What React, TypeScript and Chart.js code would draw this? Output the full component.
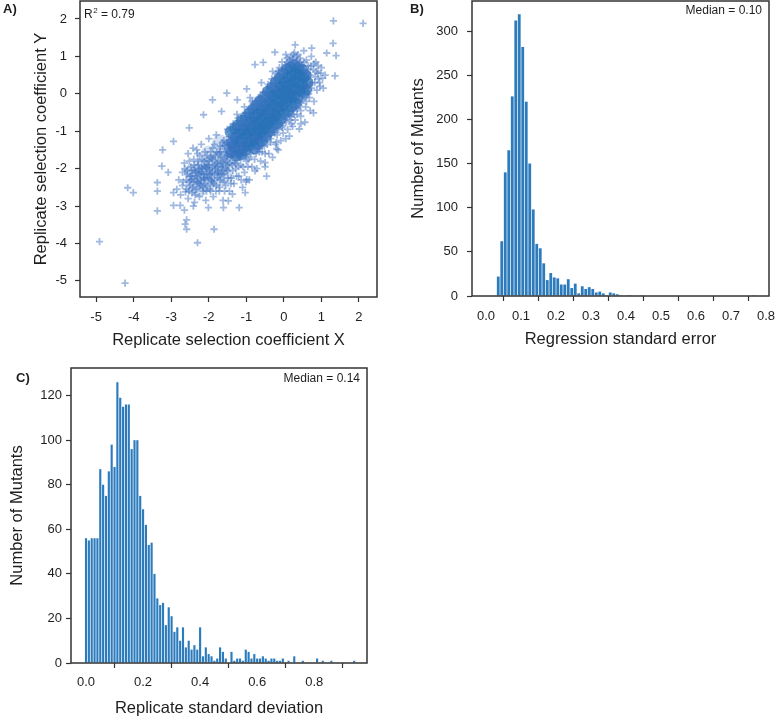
import React, { useEffect, useRef } from "react";
import { Chart, registerables } from "chart.js";

Chart.register(...registerables);

const FONT = "'Liberation Sans', Arial, Helvetica, sans-serif";
const TEXT = "#1e1e1e";
const FRAME = "#333333";
const BAR_BLUE = "#2b7bbd";

// ---------- Panel A: replicate selection coefficients (X, Y) ----------
// dense core of the cloud
const scatterCore: [number, number][] = [
  [-1.42, -1.02], [-1.38, -1.31], [-1.41, -1.57],
  [-1.31, -0.93], [-1.28, -1.17], [-1.33, -1.41], [-1.27, -1.66],
  [-1.22, -0.84], [-1.18, -1.07], [-1.21, -1.28], [-1.17, -1.53],
  [-1.12, -0.72], [-1.08, -0.96], [-1.11, -1.21], [-1.07, -1.43], [-1.13, -1.62],
  [-1.02, -0.63], [-0.98, -0.87], [-1.01, -1.09], [-0.97, -1.32], [-1.03, -1.51],
  [-0.92, -0.52], [-0.88, -0.74], [-0.91, -0.97], [-0.87, -1.16], [-0.93, -1.38],
  [-0.82, -0.41], [-0.78, -0.62], [-0.81, -0.84], [-0.77, -1.06], [-0.83, -1.24], [-0.79, -1.46],
  [-0.72, -0.31], [-0.68, -0.53], [-0.71, -0.77], [-0.67, -0.94], [-0.73, -1.16], [-0.69, -1.34],
  [-0.62, -0.19], [-0.58, -0.44], [-0.61, -0.66], [-0.57, -0.86], [-0.63, -1.04], [-0.59, -1.26],
  [-0.52, -0.08], [-0.48, -0.31], [-0.51, -0.54], [-0.47, -0.76], [-0.53, -0.94], [-0.49, -1.14],
  [-0.42, 0.06], [-0.38, -0.19], [-0.41, -0.42], [-0.37, -0.61], [-0.43, -0.79], [-0.39, -1.01],
  [-0.32, 0.16], [-0.28, -0.06], [-0.31, -0.29], [-0.27, -0.51], [-0.33, -0.69], [-0.29, -0.91],
  [-0.22, 0.31], [-0.18, 0.04], [-0.21, -0.16], [-0.17, -0.36], [-0.23, -0.59], [-0.19, -0.79],
  [-0.12, 0.41], [-0.08, 0.19], [-0.11, 0.01], [-0.07, -0.21], [-0.13, -0.44], [-0.09, -0.69],
  [-0.02, 0.54], [0.02, 0.31], [-0.01, 0.09], [0.03, -0.11], [-0.03, -0.31], [0.01, -0.54],
  [0.08, 0.66], [0.12, 0.44], [0.09, 0.21], [0.13, 0.01], [0.07, -0.19], [0.11, -0.46],
  [0.18, 0.71], [0.22, 0.49], [0.19, 0.29], [0.23, 0.11], [0.17, -0.09], [0.21, -0.34],
  [0.28, 0.76], [0.32, 0.54], [0.29, 0.36], [0.33, 0.14], [0.27, -0.06], [0.31, -0.26],
  [0.38, 0.69], [0.42, 0.51], [0.39, 0.29], [0.43, 0.09], [0.37, -0.11],
  [0.48, 0.64], [0.52, 0.44], [0.49, 0.26], [0.53, 0.04],
  [0.58, 0.49], [0.62, 0.31], [0.59, 0.11],
];

// medium-density lower-left lobe (overlapping markers read as a filled patch)
const scatterLobe: [number, number][] = [
  [-2.4, -2.45], [-2.3, -2.2], [-2.2, -1.95], [-2.1, -2.1], [-2.05, -2.4], [-1.95, -1.85],
  [-1.9, -2.15], [-1.8, -2.3], [-1.75, -1.75], [-1.65, -2.0], [-1.6, -1.55], [-1.5, -1.8],
  [-1.45, -1.4], [-1.55, -2.2], [-2.45, -2.1], [-2.25, -2.55], [-2.0, -1.6], [-1.7, -1.3],
];

// lighter cloud around the core
const scatterCloud: [number, number][] = [
  [-2.85, -2.55], [-2.8, -2.3], [-2.75, -2.7], [-2.7, -2.1], [-2.7, -2.45], [-2.65, -1.85],
  [-2.62, -2.62], [-2.6, -2.3], [-2.58, -2.05], [-2.55, -2.8], [-2.55, -1.6], [-2.5, -2.45],
  [-2.5, -2.2], [-2.48, -1.95], [-2.45, -2.65], [-2.42, -1.45], [-2.4, -2.35], [-2.4, -1.75],
  [-2.38, -2.9], [-2.35, -2.1], [-2.33, -2.55], [-2.3, -1.6], [-2.3, -2.25], [-2.28, -1.9],
  [-2.25, -2.75], [-2.22, -2.45], [-2.2, -1.35], [-2.2, -2.1], [-2.18, -1.75], [-2.15, -2.6],
  [-2.13, -2.3], [-2.1, -1.55], [-2.1, -1.95], [-2.08, -2.85], [-2.05, -2.15], [-2.03, -2.45],
  [-2.0, -1.2], [-2.0, -1.8], [-1.98, -2.05], [-1.95, -2.6], [-1.93, -2.3], [-1.9, -1.45],
  [-1.9, -1.95], [-1.88, -2.75], [-1.85, -2.15], [-1.83, -1.65], [-1.8, -2.45], [-1.8, -1.1],
  [-1.78, -1.85], [-1.75, -2.05], [-1.72, -2.6], [-1.7, -1.4], [-1.7, -2.3], [-1.68, -1.7],
  [-1.65, -1.95], [-1.62, -2.85], [-1.6, -1.25], [-1.6, -2.15], [-1.58, -1.55], [-1.55, -2.45],
  [-1.52, -1.8], [-1.5, -0.95], [-1.5, -2.05], [-1.48, -1.35], [-1.45, -2.6], [-1.43, -1.6],
  [-1.4, -2.25], [-1.4, -1.15], [-1.38, -1.9], [-1.35, -0.8], [-1.33, -2.4], [-1.3, -1.45],
  [-1.28, -2.0], [-1.25, -1.7], [-1.22, -0.65], [-1.2, -2.2], [-1.18, -1.25], [-1.15, -1.9],
  [-1.12, -0.9], [-1.1, -2.5], [-1.08, -1.55], [-1.05, -2.1], [-1.02, -0.5], [-1.0, -1.8],
  [-0.98, -0.75], [-0.95, -1.25], [-0.92, -2.3], [-0.9, -0.4], [-0.88, -1.6], [-0.85, -1.95],
  [-0.82, -0.25], [-0.8, -1.15], [-0.78, -1.75], [-0.75, -0.55], [-0.72, -2.0], [-0.7, -1.45],
  [-0.68, -0.1], [-0.65, -1.25], [-0.62, -1.8], [-0.6, -0.35], [-0.58, -1.55], [-0.55, 0.05],
  [-0.52, -1.4], [-0.5, -1.95], [-0.48, -0.2], [-0.45, -1.15], [-0.42, 0.25], [-0.4, -1.6],
  [-0.38, -0.5], [-0.35, -1.3], [-0.32, 0.4], [-0.3, -1.7], [-0.28, -0.95], [-0.25, 0.15],
  [-0.22, -1.35], [-0.2, 0.55], [-0.18, -1.1], [-0.15, -1.5], [-0.12, 0.7], [-0.1, -0.85],
  [-0.08, -1.25], [-0.05, 0.85], [-0.02, -1.05], [0.0, 0.6], [0.03, -0.7], [0.05, -1.2],
  [0.08, 0.95], [0.1, -0.95], [0.13, 0.75], [0.15, -0.6], [0.18, 1.0], [0.2, -0.8],
  [0.23, 0.9], [0.25, -0.45], [0.28, 1.1], [0.3, -0.7], [0.33, 0.85], [0.35, -0.55],
  [0.38, 1.05], [0.4, -0.3], [0.43, 0.95], [0.45, -0.6], [0.48, 0.75], [0.5, -0.15],
  [0.53, 1.15], [0.55, 0.6], [0.58, -0.35], [0.6, 0.9], [0.63, 0.2], [0.65, 0.75],
  [0.68, -0.1], [0.7, 0.5], [0.73, 1.0], [0.75, 0.3], [0.78, 0.65], [0.8, -0.2],
  [0.83, 0.45], [0.85, 0.85], [0.88, 0.1], [0.9, 0.55], [0.95, 0.3], [1.0, 0.7],
  [1.05, 0.15], [1.1, 0.5],
  [-2.68, -2.35], [-2.64, -2.0], [-2.6, -2.55], [-2.57, -2.15], [-2.53, -2.6], [-2.52, -1.8],
  [-2.47, -2.3], [-2.45, -2.05], [-2.43, -2.5], [-2.39, -1.9], [-2.36, -2.7], [-2.34, -2.2],
  [-2.32, -1.5], [-2.27, -2.4], [-2.26, -2.0], [-2.24, -1.65], [-2.21, -2.3], [-2.19, -1.95],
  [-2.16, -2.5], [-2.14, -2.15], [-2.12, -1.8], [-2.09, -2.4], [-2.07, -2.0], [-2.05, -1.65],
  [-2.02, -2.25], [-1.99, -1.9], [-1.97, -2.55], [-1.95, -1.55], [-1.92, -2.1], [-1.9, -1.75],
  [-1.87, -2.4], [-1.85, -1.35], [-1.82, -2.0], [-1.79, -1.55], [-1.77, -2.25], [-1.74, -1.8],
  [-1.71, -2.5], [-1.69, -1.55], [-1.66, -2.15], [-1.64, -1.3], [-1.62, -1.85], [-1.59, -2.35],
  [-1.57, -1.4], [-1.54, -2.0], [-1.51, -1.65], [-1.49, -2.25], [-1.46, -1.15], [-1.44, -1.85],
  [-1.41, -2.4], [-1.39, -1.35], [-1.36, -2.05], [-1.34, -1.6], [-1.31, -1.85], [-1.29, -1.1],
  [-1.26, -2.2], [-1.24, -1.45], [-1.21, -1.95], [-1.19, -0.85], [-1.16, -1.7], [-1.14, -2.3],
  [-1.11, -1.35], [-1.09, -1.95], [-1.06, -0.75], [-1.04, -1.65], [-1.01, -2.35], [-0.99, -1.45],
  [-0.96, -1.95], [-0.94, -0.6], [-0.91, -1.7], [-0.89, -0.85],
  [-0.86, -0.35], [-0.84, -1.5], [-0.76, -0.2], [-0.74, -1.6], [-0.66, -0.3], [-0.64, -1.45],
  [-0.56, -0.15], [-0.54, -1.25], [-0.46, 0.1], [-0.44, -1.35], [-0.36, 0.2], [-0.34, -1.1],
  [-0.26, 0.35], [-0.24, -1.05], [-0.16, 0.5], [-0.14, -0.95], [-0.06, 0.65], [-0.04, -0.85],
  [0.04, 0.75], [0.06, -0.75], [0.14, 0.9], [0.16, -0.7], [0.24, 0.95], [0.26, -0.55],
  [0.34, 1.0], [0.36, -0.4], [0.44, 0.85], [0.46, -0.25], [0.54, 0.85], [0.56, -0.1],
  [0.64, 0.55], [0.66, 0.0], [0.72, 0.75], [0.74, 0.15], [0.82, 0.3], [0.86, 0.6],
  [0.92, 0.4], [0.98, 0.55], [0.05, 1.05], [-0.3, 0.6], [-0.6, 0.3], [-0.9, -0.1],
  [0.7, -0.45], [0.45, -0.8], [-0.2, -1.3], [-0.5, -1.6],
  [-2.45, -2.2], [-2.38, -2.05], [-2.31, -2.35], [-2.24, -2.15], [-2.17, -2.0], [-2.11, -2.25],
  [-2.04, -1.9], [-1.97, -2.15], [-1.91, -2.35], [-1.84, -1.9], [-1.76, -2.1], [-1.69, -1.95],
  [-1.63, -2.05], [-1.56, -1.75], [-1.49, -1.9], [-1.42, -1.7], [-1.35, -1.5], [-1.27, -1.85],
  [-1.21, -1.6], [-1.15, -1.45], [-2.29, -1.8], [-2.06, -2.6], [-1.81, -2.6], [-1.58, -2.6],
  [-2.52, -2.35], [-1.95, -1.7], [-1.72, -1.6], [-1.46, -1.45], [-1.33, -1.25], [-1.52, -1.3],
  [-0.7, -0.15], [-0.45, -0.05], [-0.15, 0.6], [0.1, 0.85], [0.35, 0.9], [0.5, 0.75],
  [0.65, 0.65], [0.7, 0.25], [0.6, -0.2], [0.45, -0.45], [0.2, -0.6], [-0.05, -0.9],
  [-0.35, -1.2], [-0.65, -1.55], [-0.95, -1.75], [-1.25, -0.55], [-1.05, -0.35], [-0.85, -0.2],
  [0.8, 0.8], [0.25, 1.05],
];

// isolated points read individually
const scatterOutliers: [number, number][] = [
  [2.11, 1.88], [1.32, 1.95], [1.31, 1.35], [1.39, 1.02], [1.36, 0.48], [1.14, 1.09],
  [0.91, 0.75], [0.74, 1.22], [0.3, 1.31], [-0.24, 1.11], [-0.77, 0.78], [-0.55, 0.84],
  [-0.99, 0.13], [-1.52, 0.02], [-1.24, -0.16], [-1.9, -0.16], [-2.14, -0.56], [-1.66, -0.47],
  [-2.52, -0.91], [-2.94, -1.27], [-3.23, -1.5], [-3.25, -1.93], [-3.08, -2.1], [-3.37, -2.37],
  [-3.37, -2.6], [-3.37, -3.13], [-4.16, -2.51], [-4.01, -2.64], [-4.91, -3.95], [-4.23, -5.06],
  [-2.94, -2.98], [-2.76, -2.98], [-2.94, -2.64], [-2.65, -3.11], [-2.59, -3.37], [-2.59, -3.62],
  [-2.63, -3.48], [-2.3, -3.98], [-1.86, -3.62], [-2.01, -3.04], [-2.41, -3.0], [-1.61, -3.04],
  [-1.19, -3.04], [-1.48, -2.86], [-1.03, -2.64], [-1.37, -2.68], [-0.77, -2.06], [-0.99, -2.29],
  [-0.5, -1.84], [-0.19, -1.47], [0.15, -1.13], [0.41, -0.94], [0.56, -0.76], [0.79, -0.51],
  [1.03, 0.42], [0.96, 0.2], [0.23, -0.87], [-0.46, -2.2],
];

const scatterTicks = [-5, -4, -3, -2, -1, 0, 1, 2];
const scatterR2 = "0.79";

// ---------- Panel B: regression standard error histogram (bins of 0.01 from 0.00) ----------
const seBinWidth = 0.01;
const seCounts = [
  0, 0, 0, 22, 62, 140, 165, 226, 312, 319,
  282, 220, 150, 98, 59, 54, 37, 18, 26, 21,
  20, 13, 13, 19, 9, 14, 3, 11, 8, 10,
  8, 4, 5, 3, 1, 4, 3, 2, 1, 0,
  1, 1, 0, 0, 1, 0, 0, 0, 0, 0,
  0, 0, 0, 0, 0, 0, 0, 0, 0, 0,
  0, 0, 0, 0, 0, 0, 0, 0, 0, 0,
  0, 0, 0, 0, 0, 0, 1, 0, 0, 0,
];
const seTicks = [0.0, 0.1, 0.2, 0.3, 0.4, 0.5, 0.6, 0.7, 0.8];
const seMedian = "0.10";

// ---------- Panel C: replicate standard deviation histogram (bins of 0.01 centred on 0.00) ----------
const sdBinWidth = 0.01;
const sdCounts = [
  56, 55, 56, 56, 56, 87, 80, 75, 86, 98,
  88, 126, 119, 115, 116, 116, 96, 100, 100, 75,
  69, 62, 53, 54, 40, 29, 26, 27, 17, 25,
  21, 14, 16, 10, 16, 7, 10, 6, 8, 6,
  16, 3, 7, 4, 3, 1, 2, 7, 5, 2,
  0, 5, 1, 2, 2, 1, 6, 5, 2, 4,
  2, 2, 3, 2, 1, 2, 2, 1, 1, 2,
  0, 1, 0, 3, 0, 0, 1, 0, 0, 0,
  0, 2, 0, 1, 0, 0, 1, 0, 0, 0,
  0, 0, 0, 0, 1,
];
const sdTicks = [0.0, 0.2, 0.4, 0.6, 0.8];
const sdMedian = "0.14";

// ---------- helpers ----------
const tickFont = { family: FONT, size: 13 };
const titleFont = { family: FONT, size: 16.5 };

function framePlugin(opts: {
  letter: string;
  letterX: number;
  letterY: number;
  note: (ctx: CanvasRenderingContext2D, area: any) => void;
}) {
  return {
    id: "frameAndNotes",
    afterDraw(chart: any) {
      const { ctx, chartArea: a } = chart;
      ctx.save();
      ctx.strokeStyle = FRAME;
      ctx.lineWidth = 1.5;
      ctx.strokeRect(a.left, a.top, a.right - a.left, a.bottom - a.top);
      ctx.fillStyle = TEXT;
      ctx.textBaseline = "alphabetic";
      ctx.textAlign = "left";
      ctx.font = `bold 13px ${FONT}`;
      ctx.fillText(opts.letter, opts.letterX, opts.letterY);
      opts.note(ctx, a);
      ctx.restore();
    },
  };
}

function zeroPad(s: any) {
  s.paddingTop = 0;
  s.paddingBottom = 0;
  s.paddingLeft = 0;
  s.paddingRight = 0;
}

function axisStyle(extra: any) {
  return {
    grid: {
      display: true,
      drawOnChartArea: false,
      drawTicks: true,
      tickLength: 5,
      tickWidth: 1.2,
      color: FRAME,
    },
    border: { display: false },
    ...extra,
  };
}

export default function App() {
  const refA = useRef<HTMLCanvasElement>(null);
  const refB = useRef<HTMLCanvasElement>(null);
  const refC = useRef<HTMLCanvasElement>(null);

  useEffect(() => {
    const toXY = (arr: [number, number][]) => arr.map(([x, y]) => ({ x, y }));
    const crossColor = "rgba(66,116,196,0.5)";

    const chartA = new Chart(refA.current!, {
      type: "scatter",
      data: {
        datasets: [
          {
            data: toXY(scatterLobe),
            pointStyle: "circle",
            pointRadius: 8,
            pointBorderWidth: 0,
            borderColor: "rgba(50,110,190,0)",
            backgroundColor: "rgba(50,110,190,0.22)",
          },
          {
            data: toXY(scatterCloud),
            pointStyle: "cross",
            pointRadius: 3.6,
            pointBorderWidth: 1.8,
            borderColor: crossColor,
            backgroundColor: crossColor,
          },
          {
            data: toXY(scatterCore),
            pointStyle: "circle",
            pointRadius: 6,
            pointBorderWidth: 0,
            borderColor: "rgba(42,114,184,0)",
            backgroundColor: "rgba(42,114,184,0.72)",
          },
          {
            data: toXY(scatterOutliers),
            pointStyle: "cross",
            pointRadius: 3.6,
            pointBorderWidth: 1.8,
            borderColor: crossColor,
            backgroundColor: crossColor,
          },
        ],
      },
      options: {
        responsive: false,
        animation: false,
        devicePixelRatio: 1,
        layout: { autoPadding: false, padding: { left: 0, top: 1, right: 13, bottom: 0 } },
        plugins: { legend: { display: false }, tooltip: { enabled: false } },
        scales: {
          x: axisStyle({
            type: "linear",
            min: -5.43,
            max: 2.48,
            afterFit: (s: any) => { s.height = 63; zeroPad(s); },
            afterBuildTicks: (s: any) => { s.ticks = scatterTicks.map((v) => ({ value: v })); },
            ticks: { font: tickFont, color: TEXT, padding: 8, maxRotation: 0, callback: (v: any) => String(v) },
            title: { display: true, text: "Replicate selection coefficient X", font: titleFont, color: TEXT, padding: { top: 0, bottom: 10 } },
          }),
          y: axisStyle({
            type: "linear",
            min: -5.43,
            max: 2.48,
            afterFit: (s: any) => { s.width = 80; zeroPad(s); },
            afterBuildTicks: (s: any) => { s.ticks = scatterTicks.map((v) => ({ value: v })); },
            ticks: { font: tickFont, color: TEXT, padding: 8, callback: (v: any) => String(v) },
            title: { display: true, text: "Replicate selection coefficient Y", font: titleFont, color: TEXT, padding: { top: 32, bottom: 0 } },
          }),
        },
      },
      plugins: [
        framePlugin({
          letter: "A)",
          letterX: 3,
          letterY: 13,
          note: (ctx, a) => {
            const x = a.left + 4;
            const y = a.top + 17;
            ctx.font = `12px ${FONT}`;
            ctx.fillText("R", x, y);
            const rw = ctx.measureText("R").width;
            ctx.font = `8px ${FONT}`;
            ctx.fillText("2", x + rw + 0.5, y - 5);
            const sw = ctx.measureText("2").width;
            ctx.font = `12px ${FONT}`;
            ctx.fillText(" = " + scatterR2, x + rw + sw + 0.5, y);
          },
        }) as any,
      ],
    } as any);

    const histConfig = (
      counts: number[],
      binWidth: number,
      centreOffset: number,
      xMin: number,
      xMax: number,
      yMax: number,
      yStep: number,
      xTicks: number[],
      xTitle: string,
      barPct: number,
      dims: { yWidth: number; xHeight: number; pad: any; yTitlePad: number; xTitlePad: number; yTickPad: number; xTickPad: number },
      plugin: any
    ) => ({
      type: "bar",
      data: {
        datasets: [
          {
            data: counts.map((c, i) => ({ x: i * binWidth + centreOffset, y: c })),
            backgroundColor: BAR_BLUE,
            borderWidth: 0,
            barPercentage: barPct,
            categoryPercentage: 1,
          },
        ],
      },
      options: {
        responsive: false,
        animation: false,
        devicePixelRatio: 1,
        layout: { autoPadding: false, padding: dims.pad },
        plugins: { legend: { display: false }, tooltip: { enabled: false } },
        scales: {
          x: axisStyle({
            type: "linear",
            offset: false,
            min: xMin,
            max: xMax,
            afterFit: (s: any) => { s.height = dims.xHeight; zeroPad(s); },
            afterBuildTicks: (s: any) => { s.ticks = xTicks.map((v) => ({ value: v })); },
            ticks: { font: tickFont, color: TEXT, padding: dims.xTickPad, maxRotation: 0, callback: (v: any) => Number(v).toFixed(1) },
            title: { display: true, text: xTitle, font: titleFont, color: TEXT, padding: { top: 0, bottom: dims.xTitlePad } },
          }),
          y: axisStyle({
            type: "linear",
            min: 0,
            max: yMax,
            afterFit: (s: any) => { s.width = dims.yWidth; zeroPad(s); },
            ticks: { font: tickFont, color: TEXT, padding: dims.yTickPad, stepSize: yStep, includeBounds: false },
            title: { display: true, text: "Number of Mutants", font: titleFont, color: TEXT, padding: { top: dims.yTitlePad, bottom: 0 } },
          }),
        },
      },
      plugins: [plugin],
    });

    const medianNote = (value: string, dy: number) => (ctx: CanvasRenderingContext2D, a: any) => {
      ctx.font = `12px ${FONT}`;
      ctx.textAlign = "right";
      ctx.fillText("Median = " + value, a.right - 7, a.top + dy);
    };

    const chartB = new Chart(
      refB.current!,
      histConfig(
        seCounts, seBinWidth, seBinWidth / 2, -0.04, 0.8086, 334, 50, seTicks,
        "Regression standard error", 0.8,
        { yWidth: 82, xHeight: 64, pad: { left: 0, top: 1, right: 11, bottom: 0 }, yTitlePad: 19, xTitlePad: 11, yTickPad: 9, xTickPad: 8 },
        framePlugin({ letter: "B)", letterX: 20, letterY: 13, note: medianNote(seMedian, 13) })
      ) as any
    );

    const chartC = new Chart(
      refC.current!,
      histConfig(
        sdCounts, sdBinWidth, 0, -0.0526, 0.985, 132.4, 20, sdTicks,
        "Replicate standard deviation", 0.75,
        { yWidth: 71, xHeight: 57, pad: { left: 0, top: 8, right: 23, bottom: 0 }, yTitlePad: 8, xTitlePad: 2, yTickPad: 4, xTickPad: 7 },
        framePlugin({ letter: "C)", letterX: 16, letterY: 22, note: medianNote(sdMedian, 14) })
      ) as any
    );

    return () => {
      chartA.destroy();
      chartB.destroy();
      chartC.destroy();
    };
  }, []);

  return (
    <div style={{ position: "absolute", left: 0, top: 0, width: 780, height: 720, background: "#fff" }}>
      <canvas ref={refA} width={390} height={360} style={{ position: "absolute", left: 0, top: 0 }} />
      <canvas ref={refB} width={390} height={360} style={{ position: "absolute", left: 390, top: 0 }} />
      <canvas ref={refC} width={390} height={360} style={{ position: "absolute", left: 0, top: 360 }} />
    </div>
  );
}
